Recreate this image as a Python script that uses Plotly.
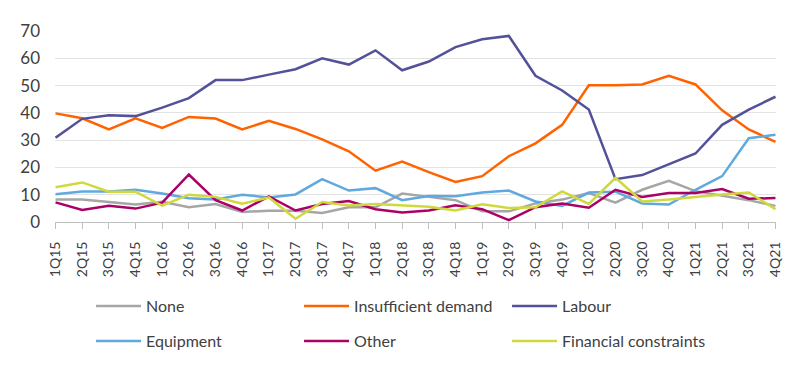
import plotly.graph_objects as go

quarters = ["1Q15","2Q15","3Q15","4Q15","1Q16","2Q16","3Q16","4Q16",
            "1Q17","2Q17","3Q17","4Q17","1Q18","2Q18","3Q18","4Q18",
            "1Q19","2Q19","3Q19","4Q19","1Q20","2Q20","3Q20","4Q20",
            "1Q21","2Q21","3Q21","4Q21"]

none_vals = [8.2, 8.2, 7.3, 6.4, 7.4, 5.4, 6.6, 3.7,
             4.1, 4.1, 3.3, 5.4, 5.4, 10.4, 9.2, 8.0,
             3.9, 3.9, 6.8, 8.2, 10.6, 7.1, 11.8, 15.1,
             11.3, 9.7, 8.0, 5.9]
insufficient_demand = [39.8, 38.0, 33.9, 38.0, 34.5, 38.5, 37.9, 33.9,
                       37.1, 34.1, 30.3, 25.9, 18.8, 22.1, 18.3, 14.7,
                       16.8, 24.1, 28.8, 35.6, 50.1, 50.1, 50.4, 53.6,
                       50.4, 40.9, 33.9, 29.4]
labour = [30.9, 37.8, 39.1, 38.8, 41.9, 45.4, 52.0, 52.0,
          54.0, 56.0, 60.0, 57.7, 62.9, 55.6, 58.8, 64.1,
          67.0, 68.2, 53.6, 48.2, 41.2, 15.7, 17.2, 21.2,
          25.1, 35.6, 41.2, 45.9]
equipment = [10.2, 11.2, 11.2, 11.8, 10.4, 8.7, 8.2, 10.0,
             9.0, 10.1, 15.7, 11.5, 12.4, 8.0, 9.5, 9.4,
             10.8, 11.5, 7.5, 5.9, 10.8, 11.1, 6.8, 6.4,
             11.8, 16.8, 30.7, 32.0]
other = [7.2, 4.4, 5.9, 4.9, 7.1, 17.4, 8.0, 4.2,
         9.4, 4.2, 6.6, 7.7, 4.7, 3.5, 4.2, 6.1,
         4.7, 0.7, 5.4, 6.8, 5.2, 11.8, 9.2, 10.6,
         10.6, 12.1, 8.5, 8.8]
financial = [12.7, 14.5, 11.1, 11.1, 6.0, 10.0, 9.2, 6.7,
             9.0, 1.2, 7.3, 6.0, 6.6, 6.1, 5.6, 4.2,
             6.5, 5.1, 5.4, 11.2, 6.6, 16.2, 7.5, 8.2,
             9.2, 10.1, 10.8, 4.7]

series = [
    ("None", none_vals, "#a6a6a6", "legend"),
    ("Insufficient demand", insufficient_demand, "#ff6200", "legend"),
    ("Labour", labour, "#525199", "legend"),
    ("Equipment", equipment, "#60a9de", "legend2"),
    ("Other", other, "#ab0066", "legend2"),
    ("Financial constraints", financial, "#d0d93c", "legend2"),
]

fig = go.Figure()
for name, vals, color, leg in series:
    fig.add_trace(go.Scatter(x=quarters, y=vals, name=name, mode="lines",
                             line=dict(color=color, width=2.5), legend=leg))

font_family = "Lato, Open Sans, sans-serif"

legend_common = dict(orientation="h", x=0.05, xanchor="left",
                     yref="container", yanchor="top",
                     entrywidth=148, entrywidthmode="pixels",
                     font=dict(size=16, color="#404040"),
                     traceorder="normal", itemwidth=45,
                     bgcolor="rgba(0,0,0,0)")

fig.update_layout(
    width=800, height=368,
    margin=dict(l=42, r=32, t=16, b=153),
    paper_bgcolor="white", plot_bgcolor="white",
    font=dict(family=font_family, color="#404040", size=16),
    xaxis=dict(tickangle=-90, tickfont=dict(size=14), showgrid=False,
               showline=True, linecolor="#bfbfbf", linewidth=1,
               ticks="outside", ticklen=6, tickcolor="#bfbfbf",
               ticklabelstandoff=7,
               range=[-0.02, 27.02], tickson="labels"),
    yaxis=dict(range=[0, 70], dtick=10, showgrid=True, gridcolor="#e3e3e3",
               gridwidth=1, zeroline=False, tickfont=dict(size=17),
               ticks="", showline=False, ticklabelstandoff=14),
    legend=dict(legend_common, y=0.236),
    legend2=dict(legend_common, y=0.141),
    showlegend=True,
)

fig.write_html("out.html")
